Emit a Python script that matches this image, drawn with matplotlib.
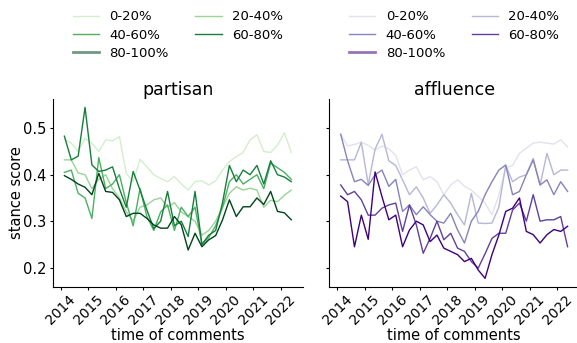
import numpy as np
import matplotlib
matplotlib.use("Agg")
import matplotlib.pyplot as plt
from matplotlib.lines import Line2D

# quarterly observation times (mid-quarter)
t = 2014.125 + 0.25 * np.arange(34)

groups = ["0-20%", "20-40%", "40-60%", "60-80%", "80-100%"]

# partisan stance score by quantile group
partisan_0_20 = [0.476, 0.468, 0.450, 0.478, 0.468, 0.450, 0.475, 0.473, 0.482, 0.403,
                 0.385, 0.433, 0.417, 0.400, 0.392, 0.385, 0.396, 0.380, 0.367, 0.385,
                 0.387, 0.378, 0.387, 0.410, 0.428, 0.439, 0.448, 0.475, 0.486, 0.450,
                 0.448, 0.464, 0.490, 0.448]
partisan_20_40 = [0.432, 0.432, 0.404, 0.400, 0.370, 0.390, 0.400, 0.370, 0.350, 0.320,
                  0.300, 0.330, 0.335, 0.346, 0.350, 0.330, 0.340, 0.320, 0.310, 0.300,
                  0.270, 0.280, 0.300, 0.330, 0.360, 0.374, 0.367, 0.371, 0.367, 0.330,
                  0.345, 0.342, 0.356, 0.367]
partisan_40_60 = [0.405, 0.410, 0.360, 0.350, 0.306, 0.437, 0.370, 0.380, 0.400, 0.340,
                  0.290, 0.370, 0.310, 0.280, 0.320, 0.335, 0.280, 0.330, 0.310, 0.330,
                  0.250, 0.265, 0.290, 0.330, 0.385, 0.400, 0.380, 0.390, 0.400, 0.370,
                  0.425, 0.415, 0.405, 0.390]
partisan_60_80 = [0.483, 0.432, 0.440, 0.545, 0.421, 0.407, 0.410, 0.417, 0.370, 0.330,
                  0.407, 0.367, 0.324, 0.284, 0.300, 0.364, 0.290, 0.300, 0.267, 0.364,
                  0.250, 0.270, 0.280, 0.340, 0.420, 0.385, 0.410, 0.400, 0.420, 0.380,
                  0.430, 0.400, 0.395, 0.385]
partisan_80_100 = [0.398, 0.390, 0.380, 0.373, 0.357, 0.403, 0.364, 0.362, 0.346, 0.310,
                   0.317, 0.317, 0.306, 0.292, 0.285, 0.285, 0.310, 0.292, 0.238, 0.274,
                   0.245, 0.260, 0.269, 0.303, 0.346, 0.310, 0.331, 0.331, 0.350, 0.336,
                   0.364, 0.321, 0.318, 0.303]

# affluence stance score by quantile group
affluence_0_20 = [0.487, 0.462, 0.465, 0.470, 0.463, 0.453, 0.462, 0.456, 0.442, 0.400,
                  0.410, 0.417, 0.389, 0.396, 0.385, 0.357, 0.378, 0.389, 0.375, 0.367,
                  0.353, 0.339, 0.314, 0.356, 0.415, 0.420, 0.446, 0.457, 0.468, 0.470,
                  0.468, 0.466, 0.475, 0.460]
affluence_20_40 = [0.432, 0.432, 0.432, 0.470, 0.379, 0.455, 0.487, 0.430, 0.420, 0.389,
                   0.357, 0.374, 0.350, 0.317, 0.335, 0.357, 0.339, 0.314, 0.292, 0.360,
                   0.296, 0.295, 0.296, 0.330, 0.420, 0.385, 0.395, 0.400, 0.435, 0.378,
                   0.446, 0.400, 0.410, 0.410]
affluence_40_60 = [0.487, 0.430, 0.385, 0.390, 0.377, 0.400, 0.410, 0.375, 0.390, 0.321,
                   0.335, 0.314, 0.331, 0.314, 0.300, 0.296, 0.317, 0.281, 0.253, 0.300,
                   0.321, 0.357, 0.385, 0.410, 0.421, 0.357, 0.364, 0.400, 0.432, 0.378,
                   0.389, 0.357, 0.385, 0.364]
affluence_60_80 = [0.378, 0.357, 0.364, 0.346, 0.313, 0.313, 0.328, 0.335, 0.339, 0.278,
                   0.335, 0.292, 0.231, 0.263, 0.300, 0.260, 0.274, 0.242, 0.235, 0.213,
                   0.199, 0.230, 0.263, 0.274, 0.274, 0.324, 0.339, 0.300, 0.357, 0.300,
                   0.303, 0.303, 0.310, 0.245]
affluence_80_100 = [0.354, 0.342, 0.245, 0.313, 0.261, 0.406, 0.353, 0.303, 0.313, 0.245,
                    0.281, 0.300, 0.292, 0.256, 0.270, 0.242, 0.235, 0.228, 0.213, 0.220,
                    0.195, 0.177, 0.228, 0.270, 0.321, 0.328, 0.350, 0.278, 0.271, 0.253,
                    0.271, 0.282, 0.278, 0.289]

partisan = [partisan_0_20, partisan_20_40, partisan_40_60, partisan_60_80, partisan_80_100]
affluence = [affluence_0_20, affluence_20_40, affluence_40_60, affluence_60_80, affluence_80_100]

plt.rcParams["font.family"] = ["DejaVu Sans"]

W, H = 577, 343
fig = plt.figure(figsize=(W / 100, H / 100), dpi=100)

ax_l = fig.add_axes([53 / W, 56.3 / H, 249.7 / W, 187.7 / H])
ax_r = fig.add_axes([329.3 / W, 56.3 / H, 249.7 / W, 187.7 / H])

panels = [
    (ax_l, partisan, plt.cm.Greens, "partisan"),
    (ax_r, affluence, plt.cm.Purples, "affluence"),
]

for ax, series, cmap, title in panels:
    colors = cmap(np.linspace(0.2, 1.0, len(groups)))
    for vals, c in zip(series, colors):
        ax.plot(t, vals, color=c, lw=1.0)
    ax.set_xlim(2013.71, 2022.79)
    ax.set_ylim(0.159, 0.563)
    ax.set_yticks([0.2, 0.3, 0.4, 0.5])
    ax.set_xticks(range(2014, 2023))
    ax.tick_params(axis="x", labelrotation=45, labelsize=10, length=2.5, pad=1.5)
    ax.tick_params(axis="y", labelsize=10.5, length=2.5, pad=2)
    for s in ("top", "right"):
        ax.spines[s].set_visible(False)
    ax.set_title(title, fontsize=12.5, pad=3)
    ax.set_xlabel("time of comments", fontsize=10.5)
    ax.xaxis.set_label_coords(0.5, -0.218)

    handles = []
    for i, (g, c) in enumerate(zip(groups, colors)):
        if i == len(groups) - 1:
            handles.append(Line2D([], [], color=c, lw=2.0, alpha=0.55, label=g))
        else:
            handles.append(Line2D([], [], color=c, lw=1.0, label=g))
    order = [0, 2, 4, 1, 3]
    ax.legend([handles[i] for i in order], [groups[i] for i in order],
              loc="lower center", bbox_to_anchor=(0.5, 1.18), ncol=2,
              frameon=False, fontsize=9.5, labelspacing=0.4,
              columnspacing=2.0, handlelength=2.0, borderaxespad=0)

ax_r.tick_params(axis="y", labelleft=False)
ax_l.set_ylabel("stance score", fontsize=10.5)
ax_l.yaxis.set_label_coords(-0.115, 0.5)

fig.savefig("out.png", dpi=100)
